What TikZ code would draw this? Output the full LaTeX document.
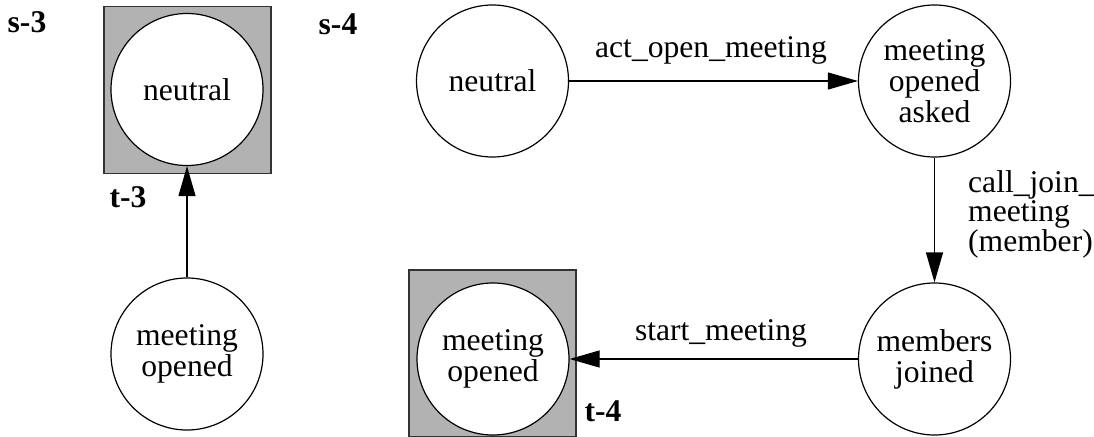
\documentclass[tikz,border=0pt]{standalone}
\usepackage{fontspec}
\setmainfont{Liberation Serif}
\usetikzlibrary{arrows.meta}
\begin{document}
\begin{tikzpicture}[x=1pt,y=-1pt,
  state/.style={circle,draw,fill=white,line width=1.2pt,minimum size=152pt,inner sep=0pt,align=center,
    font=\fontsize{31.6}{31}\selectfont},
  final/.style={rectangle,draw=black!80,fill=black!30,line width=1.2pt,minimum width=167pt,minimum height=167pt,inner sep=0pt},
  tag/.style={inner sep=0pt,font=\fontsize{31.6}{31}\selectfont\bfseries},
  lbl/.style={inner sep=0pt,font=\fontsize{31.6}{29.5}\selectfont},
  trans/.style={line width=1.2pt,-{Triangle[length=30pt,width=17pt]}}]
\useasboundingbox (0,0) rectangle (1094,436);
% left diagram
\node[final] (f3) at (187.5,90) {};
\node[state] (a3) at (187,89.5) {neutral};
\node[state] (b3) at (187,354) {meeting\\opened};
\node[tag] (s3) at (27,22) {s-3};
\node[tag] (t3) at (128,197) {t-3};
\draw[trans] (b3) -- (a3);
% right diagram
\node[final] (f4) at (492.5,353.5) {};
\node[state] (d4) at (493,359) {meeting\\opened};
\node[state] (a4) at (492.5,81) {neutral};
\node[state] (b4) at (934.5,81) {meeting\\opened\\asked};
\node[state] (c4) at (934.5,359) {members\\joined};
\node[tag] (s4) at (338,24) {s-4};
\node[tag] (t4) at (603,411) {t-4};
\draw[trans] (a4) -- (b4);
\node[lbl,anchor=base] (la) at (711,57) {act\_open\_meeting};
\draw[trans] (b4) -- (c4);
\node[lbl,anchor=north west,align=left] (lb) at (968,170) {call\_join\_\\meeting\\(member)};
\draw[trans] (c4) -- (d4);
\node[lbl,anchor=base] (lc) at (721,340) {start\_meeting};
\end{tikzpicture}
\end{document}
